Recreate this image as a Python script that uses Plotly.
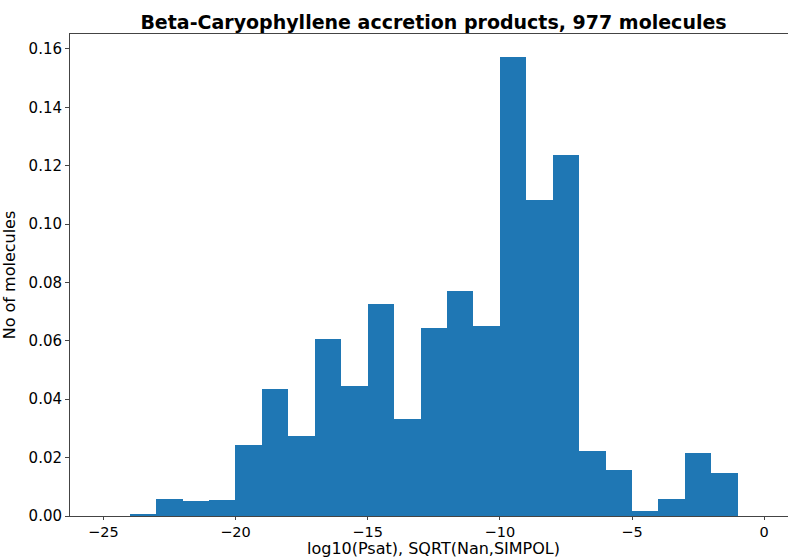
import plotly.graph_objects as go

bin_left = [-24, -23, -22, -21, -20, -19, -18, -17, -16, -15, -14, -13,
            -12, -11, -10, -9, -8, -7, -6, -5, -4, -3, -2]
bin_width = 1
density = [0.0005, 0.0058, 0.0052, 0.0056, 0.0243, 0.0435, 0.0275, 0.0606,
           0.0445, 0.0725, 0.0333, 0.0643, 0.0772, 0.0652, 0.1572, 0.1083,
           0.1237, 0.0223, 0.0159, 0.0017, 0.0057, 0.0217, 0.0148]

x_ticks = [-25, -20, -15, -10, -5, 0]
y_ticks = [0.00, 0.02, 0.04, 0.06, 0.08, 0.10, 0.12, 0.14, 0.16]

centers = [b + bin_width / 2 for b in bin_left]

fig = go.Figure(go.Bar(
    x=centers, y=density, width=[bin_width] * len(centers),
    marker=dict(color="#1f77b4", line=dict(width=0)),
))

W, H = 789, 559
L, R, T, B = 70, 1, 34, 43
font = "DejaVu Sans"
axcol = "#444"

fig.update_layout(
    width=W, height=H,
    margin=dict(l=L, r=R, t=T, b=B, autoexpand=False),
    paper_bgcolor="white", plot_bgcolor="white",
    bargap=0, showlegend=False,
    font=dict(family=font, size=15, color="black"),
    title=dict(
        text="<b>Beta-Caryophyllene accretion products, 977 molecules</b>",
        font=dict(family=font, size=19, color="black"),
        x=(433.5 - L) / (W - L - R), xref="paper", xanchor="center",
        y=1 - 22 / H, yref="container", yanchor="middle",
    ),
    annotations=[dict(
        text="log10(Psat), SQRT(Nan,SIMPOL)",
        xref="paper", yref="paper",
        x=(433.5 - L) / (W - L - R), y=0,
        xanchor="center", yanchor="bottom", yshift=-43,
        showarrow=False, borderpad=0,
        font=dict(family=font, size=16, color="black"),
    )],
)

fig.update_xaxes(
    range=[-26.26, 0.90], tickvals=x_ticks,
    ticks="outside", ticklen=3, tickwidth=1, tickcolor=axcol,
    showline=True, linecolor=axcol, linewidth=1, mirror=True,
    showgrid=False, zeroline=False,
    tickfont=dict(family=font, size=14.5, color="black"),
)
fig.update_yaxes(
    range=[0, 0.1651], tickvals=y_ticks, tickformat=".2f",
    ticks="outside", ticklen=4, tickwidth=1, tickcolor=axcol,
    showline=True, linecolor=axcol, linewidth=1, mirror=False,
    showgrid=False, zeroline=False,
    tickfont=dict(family=font, size=15, color="black"),
    title=dict(text="No of molecules", standoff=8,
               font=dict(family=font, size=16, color="black")),
)

fig.write_html("out.html")
